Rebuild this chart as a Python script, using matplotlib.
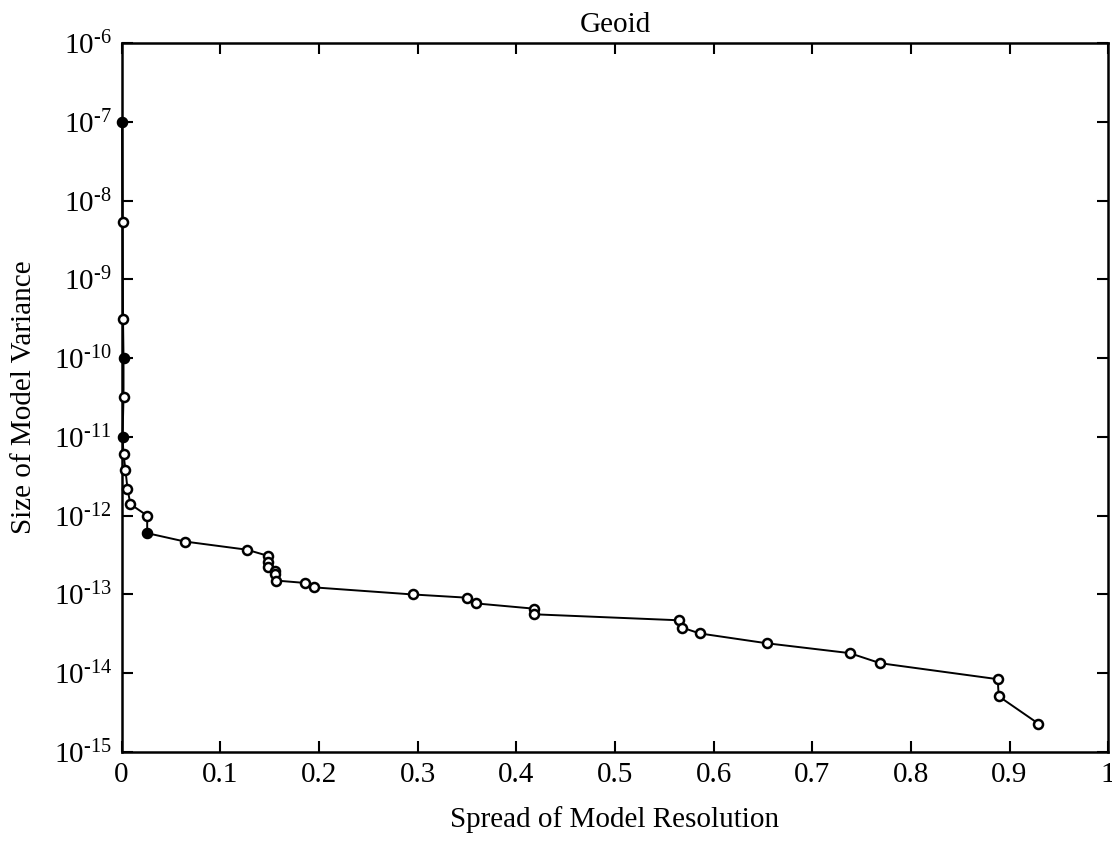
import matplotlib
matplotlib.use("Agg")
import matplotlib.pyplot as plt
import numpy as np

# Trade-off curve: spread of model resolution vs. size of model variance
spread = [0.0005, 0.001, 0.0015, 0.002, 0.002, 0.001, 0.002, 0.004, 0.006, 0.009,
          0.026, 0.026, 0.064, 0.127, 0.148, 0.148, 0.148, 0.156, 0.156, 0.157,
          0.186, 0.195, 0.295, 0.350, 0.359, 0.418, 0.418, 0.565, 0.568, 0.586,
          0.654, 0.738, 0.769, 0.888, 0.889, 0.929]
variance = [1.0e-7, 5.4e-9, 3.1e-10, 1.0e-10, 3.2e-11, 1.0e-11, 6.0e-12, 3.8e-12, 2.2e-12, 1.4e-12,
            1.0e-12, 6.0e-13, 4.7e-13, 3.7e-13, 3.1e-13, 2.6e-13, 2.25e-13, 2.0e-13, 1.8e-13, 1.5e-13,
            1.4e-13, 1.23e-13, 1.0e-13, 9.1e-14, 7.7e-14, 6.6e-14, 5.6e-14, 4.7e-14, 3.8e-14, 3.2e-14,
            2.4e-14, 1.8e-14, 1.34e-14, 8.4e-15, 5.1e-15, 2.3e-15]
# points drawn as solid dots
solid_idx = [0, 3, 5, 11]

x_ticks = [0, 0.1, 0.2, 0.3, 0.4, 0.5, 0.6, 0.7, 0.8, 0.9, 1]
x_tick_labels = ["0", "0.1", "0.2", "0.3", "0.4", "0.5", "0.6", "0.7", "0.8", "0.9", "1"]
y_exponents = [-15, -14, -13, -12, -11, -10, -9, -8, -7, -6]

plt.rcParams["font.family"] = ["Liberation Serif", "DejaVu Serif"]
plt.rcParams["mathtext.fontset"] = "custom"
plt.rcParams["mathtext.rm"] = "Liberation Serif"
plt.rcParams["mathtext.it"] = "Liberation Serif:italic"

fig = plt.figure(figsize=(11.12, 8.61), dpi=100)
ax = fig.add_axes([0.1093, 0.1266, 0.8873, 0.8234])

ax.plot(spread, variance, color="black", lw=1.4, marker="o", ms=6.5,
        mfc="white", mec="black", mew=1.8, zorder=3, clip_on=False)
ax.plot([spread[i] for i in solid_idx], [variance[i] for i in solid_idx],
        ls="none", marker="o", ms=6.5, mfc="black", mec="black", zorder=4,
        clip_on=False)

ax.set_yscale("log")
ax.set_xlim(0, 1)
ax.set_ylim(1e-15, 1e-6)

ax.set_xticks(x_ticks)
ax.set_xticklabels(x_tick_labels, fontsize=21)
yt = [10.0 ** e for e in y_exponents]
ax.set_yticks(yt)
ax.set_yticklabels([r"$10^{\text{-%d}}$" % (-e) for e in y_exponents], fontsize=21)
ax.yaxis.set_minor_locator(matplotlib.ticker.NullLocator())

ax.tick_params(axis="both", which="major", direction="in", length=8, width=1.5,
               top=True, right=True, pad=7)

for s in ax.spines.values():
    s.set_linewidth(1.8)

ax.set_title("Geoid", fontsize=21, pad=8)
ax.set_xlabel("Spread of Model Resolution", fontsize=21, labelpad=13)
ax.set_ylabel("Size of Model Variance", fontsize=21, labelpad=12)

fig.savefig("out.png", dpi=100, facecolor="white")
